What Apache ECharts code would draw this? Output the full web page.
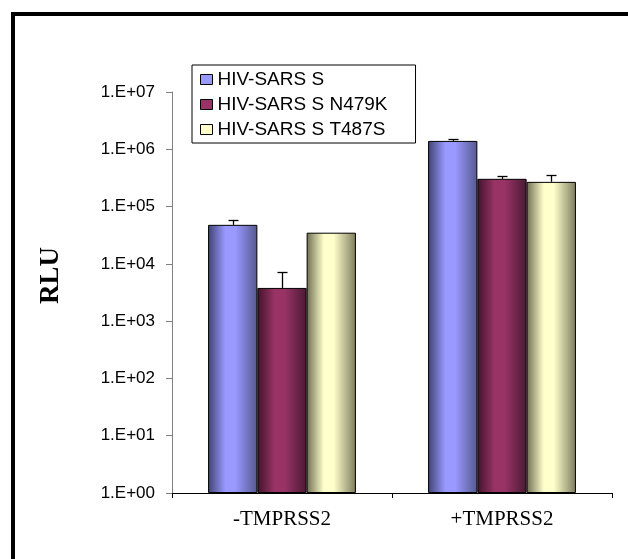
<!DOCTYPE html>
<html>
<head>
<meta charset="utf-8">
<script src="https://cdn.jsdelivr.net/npm/echarts@6/dist/echarts.min.js"></script>
<style>
  html, body { margin: 0; padding: 0; background: #fff; }
  #chart { width: 628px; height: 559px; }
</style>
</head>
<body>
<div id="chart"></div>
<script>
// ---- data ----
const categories = ['-TMPRSS2', '+TMPRSS2'];
const seriesNames = ['HIV-SARS S', 'HIV-SARS S N479K', 'HIV-SARS S T487S'];
const valuesS = [48000, 1400000];
const valuesN479K = [3800, 305000];
const valuesT487S = [35000, 270000];
const errTopS = [59000, 1500000];
const errTopN479K = [7100, 335000];
const errTopT487S = [35000, 350000];
const yTickExponents = [0, 1, 2, 3, 4, 5, 6, 7];

const allValues = [valuesS, valuesN479K, valuesT487S];
const allErrTop = [errTopS, errTopN479K, errTopT487S];
const flatColors = ['#9999ff', '#993366', '#ffffcc'];
const edgeColors = [['#3f4272', '#55588e'], ['#40142a', '#4a1a33'], ['#6e6e52', '#7c7c5e']];

function grad(i) {
  return {
    type: 'linear', x: 0, y: 0, x2: 1, y2: 0,
    colorStops: [
      { offset: 0, color: edgeColors[i][0] },
      { offset: 0.35, color: flatColors[i] },
      { offset: 0.55, color: flatColors[i] },
      { offset: 1, color: edgeColors[i][1] }
    ]
  };
}

const BAR_FRAC = 0.224;

const barSeries = seriesNames.map((name, i) => ({
  name: name,
  type: 'bar',
  data: allValues[i],
  barWidth: (BAR_FRAC * 100) + '%',
  barGap: '0%',
  itemStyle: { color: grad(i), borderColor: '#000', borderWidth: 1 },
  emphasis: { disabled: true },
  z: 2
}));

const errSeries = seriesNames.map((name, k) => ({
  name: name + ' error',
  type: 'custom',
  data: categories.map((c, ci) => [ci, allValues[k][ci], allErrTop[k][ci]]),
  encode: { x: 0, y: [1, 2] },
  z: 3,
  silent: true,
  renderItem: function (params, api) {
    const ci = api.value(0);
    const base = api.value(1);
    const top = api.value(2);
    const p0 = api.coord([ci, base]);
    const p1 = api.coord([ci, top]);
    const band = api.size([1, 1])[0];
    const bw = band * BAR_FRAC;
    const x = Math.round(p0[0] + (k - 1) * bw) + 0.5;
    const y0 = p0[1];
    const y1 = Math.round(p1[1]) + 0.5;
    const half = 5;
    const style = { stroke: '#000', lineWidth: 1.3 };
    if (Math.abs(y0 - y1) < 1) return null;
    return {
      type: 'group',
      children: [
        { type: 'line', shape: { x1: x, y1: y0, x2: x, y2: y1 }, style: style },
        { type: 'line', shape: { x1: x - half, y1: y1, x2: x + half, y2: y1 }, style: style }
      ]
    };
  }
}));

const chart = echarts.init(document.getElementById('chart'), null, { renderer: 'canvas' });
chart.setOption({
  animation: false,
  backgroundColor: '#fff',
  grid: { left: 172, right: 16, top: 92, bottom: 66, containLabel: false },
  legend: {
    data: seriesNames.map((n, i) => ({
      name: n,
      icon: 'rect',
      itemStyle: { color: flatColors[i], borderColor: '#000', borderWidth: 1 }
    })),
    orient: 'vertical',
    left: 192,
    top: 65,
    itemWidth: 12,
    itemHeight: 10,
    itemGap: 6,
    padding: [5, 28, 4, 8],
    borderColor: '#000',
    borderWidth: 1,
    selectedMode: false,
    textStyle: { fontFamily: 'Liberation Sans', fontSize: 19, color: '#000' }
  },
  xAxis: {
    type: 'category',
    data: categories,
    axisLine: { show: true, lineStyle: { color: '#000', width: 1 } },
    axisTick: { show: true, length: 5, lineStyle: { color: '#000' } },
    axisLabel: { fontFamily: 'Liberation Serif', fontSize: 21, color: '#000', margin: 16 },
    splitLine: { show: false }
  },
  yAxis: {
    type: 'log',
    logBase: 10,
    min: Math.pow(10, yTickExponents[0]),
    max: Math.pow(10, yTickExponents[yTickExponents.length - 1]),
    splitNumber: yTickExponents.length - 1,
    name: 'RLU',
    nameLocation: 'middle',
    nameRotate: 90,
    nameGap: 107,
    nameTextStyle: { fontFamily: 'Liberation Serif', fontSize: 27, fontWeight: 'bold', color: '#000', padding: [0, 0, 0, 34] },
    axisLine: { show: true, lineStyle: { color: '#808080', width: 1 } },
    axisTick: { show: true, length: 6, lineStyle: { color: '#808080' } },
    axisLabel: {
      fontFamily: 'Liberation Sans', fontSize: 17, color: '#000', margin: 17,
      formatter: function (v) {
        const e = Math.round(Math.log10(v));
        return '1.E+' + (e < 10 ? '0' : '') + e;
      }
    },
    splitLine: { show: false }
  },
  graphic: [{
    type: 'rect',
    shape: { x: 13, y: 14, width: 640, height: 580 },
    style: { fill: 'none', stroke: '#000', lineWidth: 4 },
    silent: true,
    z: 100
  }],
  series: barSeries.concat(errSeries)
});
</script>
</body>
</html>
